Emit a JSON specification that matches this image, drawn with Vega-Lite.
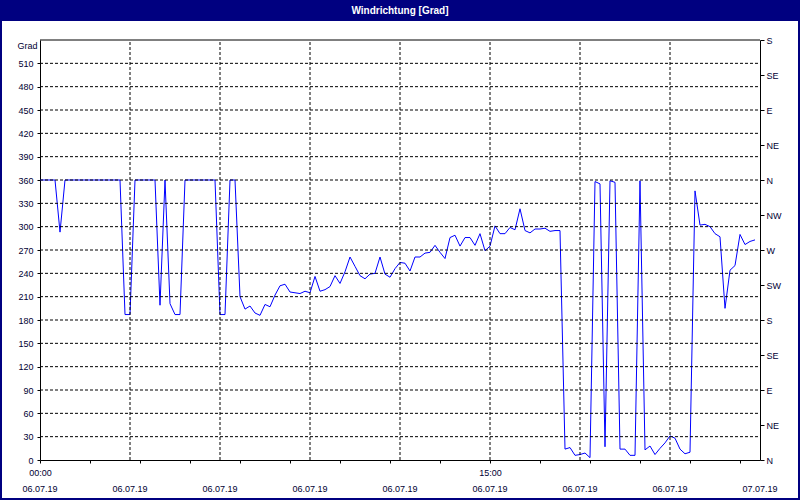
{
  "$schema": "https://vega.github.io/schema/vega-lite/v6.json",
  "width": 796,
  "height": 477,
  "autosize": {"type": "none"},
  "padding": {"left": 2, "top": 21, "right": 2, "bottom": 2},
  "background": "#000080",
  "title": {
    "text": "Windrichtung [Grad]",
    "color": "#ffffff",
    "font": "Liberation Sans",
    "fontSize": 10,
    "fontWeight": "bold",
    "anchor": "middle",
    "frame": "group",
    "offset": -5,
    "baseline": "bottom"
  },
  "config": {
    "view": {"fill": "#ffffff", "stroke": null},
    "font": "Liberation Sans",
    "axis": {
      "grid": false,
      "domainColor": "#000000",
      "domainWidth": 1,
      "tickColor": "#000000",
      "tickWidth": 1,
      "tickSize": 3,
      "labelColor": "#000033",
      "labelFont": "Liberation Sans",
      "labelFontSize": 9,
      "labelOverlap": false,
      "titleFont": "Liberation Sans"
    },
    "axisX": {
      "orient": "bottom",
      "offset": -38,
      "title": null,
      "values": [0, 60, 120, 180, 240, 300, 360, 420, 480, 540, 600, 660, 720, 780, 840, 900, 960, 1020, 1080, 1140, 1200, 1260, 1320, 1380, 1440],
      "labelFlush": false,
      "labelOverlap": false,
      "labelPadding": 5,
      "labelAlign": "center"
    }
  },
  "datasets": {
    "wind": [
      {"min": 0, "deg": 360}, {"min": 10, "deg": 360}, {"min": 20, "deg": 360}, {"min": 30, "deg": 360},
      {"min": 40, "deg": 293}, {"min": 50, "deg": 360}, {"min": 60, "deg": 360}, {"min": 70, "deg": 360},
      {"min": 80, "deg": 360}, {"min": 90, "deg": 360}, {"min": 100, "deg": 360}, {"min": 110, "deg": 360},
      {"min": 120, "deg": 360}, {"min": 130, "deg": 360}, {"min": 140, "deg": 360}, {"min": 150, "deg": 360},
      {"min": 160, "deg": 360}, {"min": 170, "deg": 187}, {"min": 180, "deg": 187}, {"min": 190, "deg": 360},
      {"min": 200, "deg": 360}, {"min": 210, "deg": 360}, {"min": 220, "deg": 360}, {"min": 230, "deg": 360},
      {"min": 240, "deg": 199}, {"min": 250, "deg": 360}, {"min": 260, "deg": 201}, {"min": 270, "deg": 187},
      {"min": 280, "deg": 187}, {"min": 290, "deg": 360}, {"min": 300, "deg": 360}, {"min": 310, "deg": 360},
      {"min": 320, "deg": 360}, {"min": 330, "deg": 360}, {"min": 340, "deg": 360}, {"min": 350, "deg": 360},
      {"min": 360, "deg": 187}, {"min": 370, "deg": 187}, {"min": 380, "deg": 360}, {"min": 390, "deg": 360},
      {"min": 400, "deg": 210}, {"min": 410, "deg": 194}, {"min": 420, "deg": 198}, {"min": 430, "deg": 189},
      {"min": 440, "deg": 186}, {"min": 450, "deg": 200}, {"min": 460, "deg": 197}, {"min": 470, "deg": 212},
      {"min": 480, "deg": 224}, {"min": 490, "deg": 226}, {"min": 500, "deg": 216}, {"min": 510, "deg": 215},
      {"min": 520, "deg": 214}, {"min": 530, "deg": 217}, {"min": 540, "deg": 215}, {"min": 550, "deg": 236},
      {"min": 560, "deg": 217}, {"min": 570, "deg": 219}, {"min": 580, "deg": 223}, {"min": 590, "deg": 237},
      {"min": 600, "deg": 227}, {"min": 610, "deg": 242}, {"min": 620, "deg": 261}, {"min": 630, "deg": 249},
      {"min": 640, "deg": 237}, {"min": 650, "deg": 233}, {"min": 660, "deg": 239}, {"min": 670, "deg": 240},
      {"min": 680, "deg": 261}, {"min": 690, "deg": 239}, {"min": 700, "deg": 235}, {"min": 710, "deg": 246},
      {"min": 720, "deg": 254}, {"min": 730, "deg": 253}, {"min": 740, "deg": 243}, {"min": 750, "deg": 261},
      {"min": 760, "deg": 261}, {"min": 770, "deg": 266}, {"min": 780, "deg": 267}, {"min": 790, "deg": 276},
      {"min": 800, "deg": 267}, {"min": 810, "deg": 259}, {"min": 820, "deg": 286}, {"min": 830, "deg": 289},
      {"min": 840, "deg": 275}, {"min": 850, "deg": 286}, {"min": 860, "deg": 286}, {"min": 870, "deg": 276},
      {"min": 880, "deg": 291}, {"min": 890, "deg": 269}, {"min": 900, "deg": 275}, {"min": 910, "deg": 301},
      {"min": 920, "deg": 291}, {"min": 930, "deg": 291}, {"min": 940, "deg": 299}, {"min": 950, "deg": 296},
      {"min": 960, "deg": 323}, {"min": 970, "deg": 295}, {"min": 980, "deg": 292}, {"min": 990, "deg": 297},
      {"min": 1000, "deg": 297}, {"min": 1010, "deg": 298}, {"min": 1020, "deg": 294}, {"min": 1030, "deg": 295},
      {"min": 1040, "deg": 295}, {"min": 1050, "deg": 14}, {"min": 1060, "deg": 16}, {"min": 1070, "deg": 6},
      {"min": 1080, "deg": 7}, {"min": 1090, "deg": 9}, {"min": 1100, "deg": 3}, {"min": 1110, "deg": 358},
      {"min": 1120, "deg": 355}, {"min": 1130, "deg": 17}, {"min": 1140, "deg": 359}, {"min": 1150, "deg": 357},
      {"min": 1160, "deg": 14}, {"min": 1170, "deg": 14}, {"min": 1180, "deg": 6}, {"min": 1190, "deg": 6},
      {"min": 1200, "deg": 359}, {"min": 1210, "deg": 13}, {"min": 1220, "deg": 18}, {"min": 1230, "deg": 7},
      {"min": 1240, "deg": 15}, {"min": 1250, "deg": 22}, {"min": 1260, "deg": 31}, {"min": 1270, "deg": 28},
      {"min": 1280, "deg": 14}, {"min": 1290, "deg": 8}, {"min": 1300, "deg": 10}, {"min": 1310, "deg": 346},
      {"min": 1320, "deg": 302}, {"min": 1330, "deg": 303}, {"min": 1340, "deg": 300}, {"min": 1350, "deg": 291},
      {"min": 1360, "deg": 287}, {"min": 1370, "deg": 195}, {"min": 1380, "deg": 244}, {"min": 1390, "deg": 250},
      {"min": 1400, "deg": 290}, {"min": 1410, "deg": 277}, {"min": 1420, "deg": 281}, {"min": 1430, "deg": 283}
    ],
    "vgrid": [
      {"min": 180}, {"min": 360}, {"min": 540}, {"min": 720}, {"min": 900}, {"min": 1080}, {"min": 1260}
    ],
    "hgrid": [
      {"v": 30}, {"v": 60}, {"v": 90}, {"v": 120}, {"v": 150}, {"v": 180}, {"v": 210}, {"v": 240}, {"v": 270},
      {"v": 300}, {"v": 330}, {"v": 360}, {"v": 390}, {"v": 420}, {"v": 450}, {"v": 480}, {"v": 510}
    ],
    "frame": [{"v": 540}],
    "dates": [
      {"min": 0, "date": "06.07.19"}, {"min": 180, "date": "06.07.19"}, {"min": 360, "date": "06.07.19"},
      {"min": 540, "date": "06.07.19"}, {"min": 720, "date": "06.07.19"}, {"min": 900, "date": "06.07.19"},
      {"min": 1080, "date": "06.07.19"}, {"min": 1260, "date": "06.07.19"}, {"min": 1440, "date": "07.07.19"}
    ]
  },
  "layer": [
    {
      "data": {"name": "wind"},
      "mark": {"type": "line", "color": "#0000ff", "strokeWidth": 1},
      "encoding": {
        "x": {
          "field": "min",
          "type": "quantitative",
          "scale": {"domain": [0, 1440], "range": [38, 758], "nice": false, "zero": false},
          "axis": {
            "labelOverlap": false,
            "labelExpr": "datum.value % 180 == 0 ? (floor(datum.value / 60) % 24 < 10 ? '0' : '') + (floor(datum.value / 60) % 24) + ':00' : ''"
          }
        },
        "y": {
          "field": "deg",
          "type": "quantitative",
          "scale": {"domain": [0, 540], "range": [439, 19], "nice": false, "zero": false},
          "axis": {
            "orient": "left",
            "offset": -38,
            "values": [0, 30, 60, 90, 120, 150, 180, 210, 240, 270, 300, 330, 360, 390, 420, 450, 480, 510],
            "format": "d",
            "labelPadding": 4,
            "title": "Grad",
            "titleAngle": 0,
            "titleAlign": "right",
            "titleBaseline": "middle",
            "titleX": -3,
            "titleY": 24,
            "titleFontSize": 9,
            "titleFontWeight": "normal",
            "titleColor": "#000033"
          }
        }
      }
    },
    {
      "data": {"name": "vgrid"},
      "mark": {"type": "rule", "color": "#000000", "strokeWidth": 1, "strokeDash": [3, 2]},
      "encoding": {
        "x": {
          "field": "min",
          "type": "quantitative",
          "axis": {
            "labelOverlap": false,
            "labelExpr": "datum.value % 180 == 0 ? (floor(datum.value / 60) % 24 < 10 ? '0' : '') + (floor(datum.value / 60) % 24) + ':00' : ''"
          }
        },
        "y": {"datum": 0, "type": "quantitative", "axis": null},
        "y2": {"datum": 540}
      }
    },
    {
      "data": {"name": "hgrid"},
      "mark": {"type": "rule", "color": "#000000", "strokeWidth": 1, "strokeDash": [3, 2]},
      "encoding": {
        "x": {
          "datum": 0,
          "type": "quantitative",
          "axis": {
            "labelOverlap": false,
            "labelExpr": "datum.value % 180 == 0 ? (floor(datum.value / 60) % 24 < 10 ? '0' : '') + (floor(datum.value / 60) % 24) + ':00' : ''"
          }
        },
        "x2": {"datum": 1440},
        "y": {
          "field": "v",
          "type": "quantitative",
          "axis": {
            "orient": "right",
            "offset": -38,
            "title": null,
            "values": [0, 45, 90, 135, 180, 225, 270, 315, 360, 405, 450, 495, 540],
            "labelExpr": "['N','NE','E','SE','S','SW','W','NW'][round(datum.value / 45) % 8]",
            "tickSize": 4,
            "labelPadding": 2
          }
        }
      }
    },
    {
      "data": {"name": "frame"},
      "mark": {"type": "rule", "color": "#000000", "strokeWidth": 1},
      "encoding": {
        "x": {
          "datum": 0,
          "type": "quantitative",
          "axis": {
            "labelOverlap": false,
            "labelExpr": "datum.value % 180 == 0 ? (floor(datum.value / 60) % 24 < 10 ? '0' : '') + (floor(datum.value / 60) % 24) + ':00' : ''"
          }
        },
        "x2": {"datum": 1440},
        "y": {"field": "v", "type": "quantitative", "axis": null}
      }
    },
    {
      "data": {"name": "dates"},
      "mark": {"type": "text", "color": "#000033", "font": "Liberation Sans", "fontSize": 9, "align": "center", "baseline": "middle", "dy": 29},
      "encoding": {
        "x": {
          "field": "min",
          "type": "quantitative",
          "axis": {
            "labelOverlap": false,
            "labelExpr": "datum.value % 180 == 0 ? (floor(datum.value / 60) % 24 < 10 ? '0' : '') + (floor(datum.value / 60) % 24) + ':00' : ''"
          }
        },
        "y": {"datum": 0, "type": "quantitative", "axis": null},
        "text": {"field": "date", "type": "nominal"}
      }
    }
  ],
  "resolve": {"axis": {"y": "independent"}}
}
